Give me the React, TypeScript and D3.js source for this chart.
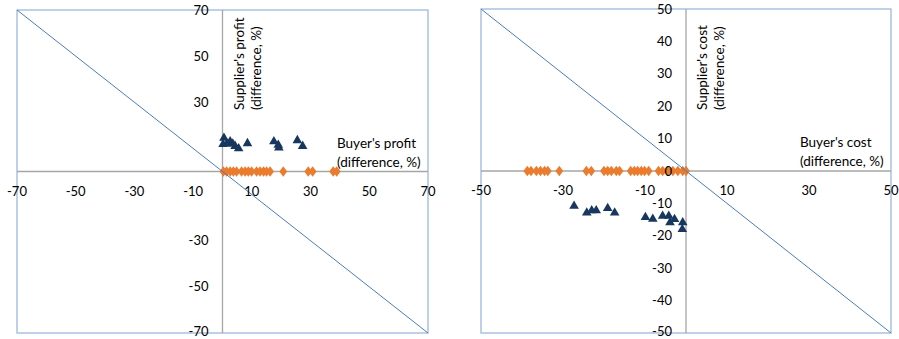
import React from "react";
import * as d3 from "d3";

// Left panel: profit differences (%)
const profitTicksX = [-70, -50, -30, -10, 10, 30, 50, 70];
const profitTicksY = [70, 50, 30, -30, -50, -70];
const profitSupplier: [number, number][] = [
  [0.5, 14.5], [0.2, 11.8], [1.5, 12], [2.6, 13], [3.5, 12], [4.3, 11], [5.5, 10],
  [8.5, 12.2], [17.5, 13], [19, 11.5], [19.2, 10.3], [25.5, 13.5], [27.3, 11],
];
const profitBuyer: number[] = [
  0.3, 1.4, 2.6, 3.7, 4.8, 6.5, 7.7, 8.8, 9.9, 11.6, 12.8, 14, 15, 16.2, 20.7, 29.2, 30.7, 37.7, 38.9,
];

// Right panel: cost differences (%)
const costTicksX = [-50, -30, -10, 10, 30, 50];
const costTicksY = [50, 40, 30, 20, 10, 0, -10, -20, -30, -40, -50];
const costSupplier: [number, number][] = [
  [-27.3, -10.8], [-24.2, -12.9], [-23, -12.2], [-21.9, -12.2], [-19.1, -11.5], [-17.4, -12.9],
  [-9.9, -14.3], [-8.1, -14.8], [-5.7, -13.9], [-4.2, -13.9], [-3.9, -15.9], [-2.8, -14.9],
  [-0.8, -15.9], [-0.9, -18],
];
const costBuyer: number[] = [
  -38.7, -37.8, -36.5, -35.5, -34.5, -33.7, -30.9, -24.3, -23.1, -20, -19.1, -18.2, -17, -16.2,
  -13.5, -12.6, -11.8, -10.9, -10.1, -9.1, -6.7, -5.7, -4.4, -3.2, -2, -0.8, 0,
];

const FONT = "Lato, 'Liberation Sans', sans-serif";
const NAVY = "#17375E";
const ORANGE = "#EB7B2D";
const HEIGHT = 339;

type PanelProps = {
  x0: number; x1: number; y0: number; y1: number;
  range: number;
  ticksX: number[]; ticksY: number[];
  supplier: [number, number][]; buyer: number[];
  yTitle: string[]; xTitle: string[];
  xTitlePos: [number, number];
  yTitleX: number;
};

function Panel(p: PanelProps) {
  const x = d3.scaleLinear().domain([-p.range, p.range]).range([p.x0, p.x1]);
  const y = d3.scaleLinear().domain([-p.range, p.range]).range([p.y1, p.y0]);
  const tri = d3.symbol().type(d3.symbolTriangle).size(40)();
  const dia = d3.symbol().type(d3.symbolDiamond).size(44)();
  const line = d3.line<number>().x((v) => x(v)).y((v) => y(-v));
  // keep the lowest value label inside the svg
  const labelY = (t: number) => Math.min(y(t), HEIGHT - 8);
  return (
    <g fontFamily={FONT}>
      <rect x={p.x0} y={p.y0} width={p.x1 - p.x0} height={p.y1 - p.y0} fill="#fff" stroke="#95B3D7" strokeWidth={1.2} />
      <line x1={x(0)} x2={x(0)} y1={p.y0} y2={p.y1} stroke="#A6A6A6" strokeWidth={1.3} />
      <line x1={p.x0} x2={p.x1} y1={y(0)} y2={y(0)} stroke="#A6A6A6" strokeWidth={1.3} />
      {p.supplier.map((d, i) => (
        <path key={"t" + i} d={tri!} transform={`translate(${x(d[0])},${y(d[1])})`} fill={NAVY} />
      ))}
      {p.buyer.map((v, i) => (
        <path key={"d" + i} d={dia!} transform={`translate(${x(v)},${y(0)}) scale(1.1,0.85)`} fill={ORANGE} />
      ))}
      <path d={line([-p.range, p.range])!} stroke="#4A7EBB" strokeWidth={1} fill="none" />
      {p.ticksX.map((t) => (
        <text key={"x" + t} x={x(t)} y={y(0) + 24} textAnchor="middle" fontSize={13} fill="#000">{t}</text>
      ))}
      {p.ticksY.map((t) => (
        <text key={"y" + t} x={x(0) - 14} y={labelY(t)} dy="0.35em" textAnchor="end" fontSize={13} fill="#000">{t}</text>
      ))}
      <text transform={`translate(${p.yTitleX},110) rotate(-90)`} fontSize={13.5} fill="#000">
        {p.yTitle.map((s, i) => (
          <tspan key={i} x={0} dy={i === 0 ? 0 : 17}>{s}</tspan>
        ))}
      </text>
      <text x={p.xTitlePos[0]} y={p.xTitlePos[1]} fontSize={13.5} fill="#000">
        {p.xTitle.map((s, i) => (
          <tspan key={i} x={p.xTitlePos[0]} dy={i === 0 ? 0 : 19}>{s}</tspan>
        ))}
      </text>
    </g>
  );
}

export default function App() {
  return (
    <svg width={899} height={HEIGHT} style={{ position: "absolute", left: 0, top: 0, background: "#fff" }}>
      <Panel
        x0={17} x1={428} y0={10} y1={333} range={70}
        ticksX={profitTicksX} ticksY={profitTicksY}
        supplier={profitSupplier} buyer={profitBuyer}
        yTitle={["Supplier's profit", "(difference, %)"]}
        xTitle={["Buyer's profit", "(difference, %)"]}
        xTitlePos={[337, 148]} yTitleX={244}
      />
      <Panel
        x0={481} x1={891} y0={9} y1={333} range={50}
        ticksX={costTicksX} ticksY={costTicksY}
        supplier={costSupplier} buyer={costBuyer}
        yTitle={["Supplier's cost", "(difference, %)"]}
        xTitle={["Buyer's cost", "(difference, %)"]}
        xTitlePos={[800, 147]} yTitleX={707}
      />
    </svg>
  );
}
